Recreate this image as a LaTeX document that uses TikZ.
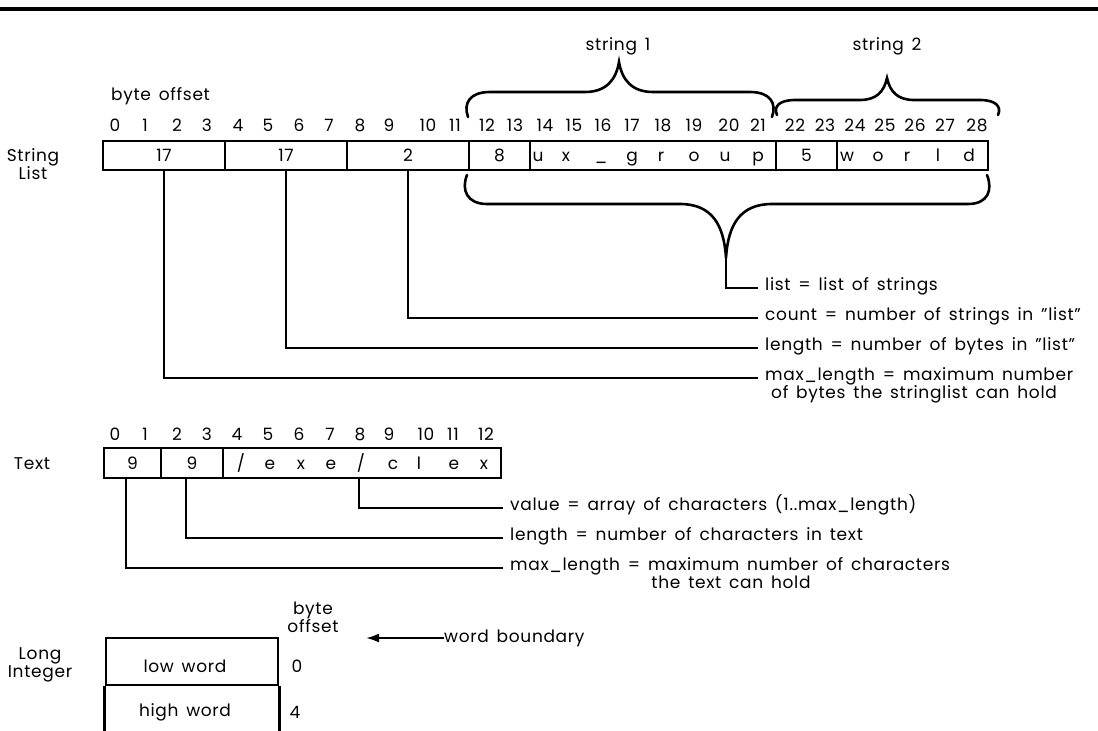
\documentclass[tikz,border=0pt]{standalone}
\usepackage{fontspec}
\setmainfont{Poppins}[LetterSpace=4,WordSpace=1.5]
\usetikzlibrary{arrows.meta}
\begin{document}
\begin{tikzpicture}[x=1pt,y=-1pt,
  every node/.style={font=\fontsize{17}{18}\selectfont},
  cell/.style={draw,line width=2.6pt,minimum height=29pt,inner sep=0},
  ch/.style={inner sep=0,anchor=base},
  conn/.style={line width=2pt},
  brace/.style={line width=2.6pt,line cap=round},
  lbl/.style={inner sep=0,anchor=base west},
]
\useasboundingbox (0,0) rectangle (1098,731);
\coordinate (rl) at (0,9);
\coordinate (rr) at (1098,9);
\draw[line width=3.2pt] (rl) -- (rr);

% ---------------- String List ----------------
\node (sllab) at (33,164) [align=center] {String\\List};
\node[lbl] (bo1) at (111,100) {byte offset};
\foreach \x [count=\i from 0] in {115,145,177,207,238,268,299,329,360,389,428,455,487,515,545,574,603,632,663,694,729,758,795,825,855,885,915,945,977}
  \node[ch] (sd\i) at (\x,131) {\i};

\node[cell,minimum width=122pt] (s1) at (164,155.5) {17};
\node[cell,minimum width=122pt] (s2) at (286,155.5) {17};
\node[cell,minimum width=122pt] (s3) at (408,155.5) {2};
\node[cell,minimum width=61pt] (s4) at (499.5,155.5) {8};
\node[cell,minimum width=246pt] (s5) at (653,155.5) {};
\node[cell,minimum width=61pt] (s6) at (806.5,155.5) {5};
\node[cell,minimum width=151pt] (s7) at (912.5,155.5) {};
\foreach \x/\c [count=\i] in {538/u,566/x,601/\_,632/g,661/r,694/o,725/u,758/p}
  \node[ch] (ua\i) at (\x,161) {\c};
\foreach \x/\c [count=\i] in {847/w,878/o,907/r,938/l,969/d}
  \node[ch] (wa\i) at (\x,161) {\c};

% braces above
\node (st1) at (618,46) {string 1};
\node (st2) at (887,46) {string 2};
\draw[brace] (468,117) .. controls (463,103) and (470,92) .. (490,92) -- (585,92)
  .. controls (606,92) and (616,80) .. (619,62) .. controls (622,80) and (632,92) .. (653,92)
  -- (750,92) .. controls (770,92) and (777,103) .. (772,117);
\draw[brace] (777,115) .. controls (773,106) and (780,100) .. (795,100) -- (860,100)
  .. controls (876,100) and (884,92) .. (887,78) .. controls (890,92) and (898,100) .. (914,100)
  -- (980,100) .. controls (995,100) and (1002,106) .. (998,115);
% brace below
\coordinate (btip) at (726,258);
\draw[brace] (467,175) .. controls (461,190) and (467,204) .. (487,204) -- (680,204)
  .. controls (712,204) and (724,225) .. (btip) .. controls (728,225) and (740,204) .. (772,204)
  -- (968,204) .. controls (988,204) and (993,190) .. (987,175);

\coordinate (eL) at (758,288);
\coordinate (eC) at (758,318);
\coordinate (eS) at (758,348);
\coordinate (eM) at (758,378);
\draw[conn] (btip) |- (eL);
\draw[conn] (s3.south) |- (eC);
\draw[conn] (s2.south) |- (eS);
\draw[conn] (s1.south) |- (eM);
\node[lbl] (lL) at (765,290) {list = list of strings};
\node[lbl] (lC) at (765,320) {count = number of strings in "list"};
\node[lbl] (lS) at (765,350) {length = number of bytes in "list"};
\node[lbl] (lM) at (765,380) {max\_length = maximum number};
\node[lbl] (lM2) at (771,398) {of bytes the stringlist can hold};

% ---------------- Text ----------------
\node (txlab) at (32,464) {Text};
\foreach \x [count=\i from 0] in {115,145,177,207,237,268,299,330,360,389,426,453,486}
  \node[ch] (td\i) at (\x,440) {\i};
\node[cell,minimum width=57pt,minimum height=30pt] (t1) at (132.5,463) {9};
\node[cell,minimum width=62pt,minimum height=30pt] (t2) at (192,463) {9};
\node[cell,minimum width=278pt,minimum height=30pt] (t3) at (362,463) {};
\foreach \x/\c [count=\i] in {241/{\slash},270/e,301/x,331/e,361/{\slash},393/c,419/l,454/e,484/x}
  \node[ch] (tc\i) at (\x,469) {\c};

\coordinate (eV) at (503,508);
\coordinate (eT) at (503,538);
\coordinate (eX) at (503,568);
\draw[conn] ([xshift=-3pt]t3.south) |- (eV);
\draw[conn] ([xshift=-6pt]t2.south) |- (eT);
\draw[conn] ([xshift=-6.5pt]t1.south) |- (eX);
\node[lbl] (lV) at (510,510) {value = array of characters (1..max\_length)};
\node[lbl] (lT) at (510,540) {length = number of characters in text};
\node[lbl] (lX) at (510,570) {max\_length = maximum number of characters};
\node[ch] (lX2) at (731,588) {the text can hold};

% ---------------- Long Integer ----------------
\node (lilab) at (40,665) [align=center] {Long\\Integer};
\node (bo2) at (313,617) [align=center] {byte\\offset};
\node[cell,minimum width=172pt,minimum height=47pt] (lw) at (192,661.5) {};
\draw[line width=2.6pt] (lw.south west) -- ++(0,60);
\draw[line width=2.6pt] (lw.south east) -- ++(0,60);
\node (lwt) at (185,666) {low word};
\node (hwt) at (185,712) {high word};
\node (o0) at (297,666) {0};
\node (o4) at (295,712) {4};
\node[anchor=west,inner sep=0] (wb) at (444,638) {word boundary};
\coordinate (wbt) at (366,638);
\draw[conn,-{Latex[length=13pt,width=9pt]}] (wb.west) -- (wbt);
\end{tikzpicture}
\end{document}
